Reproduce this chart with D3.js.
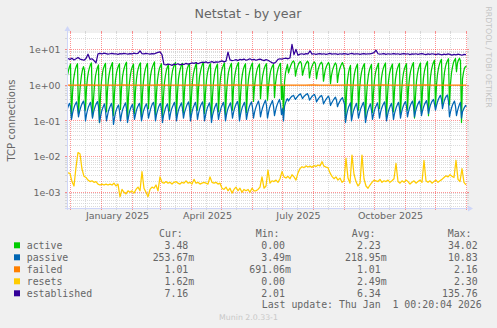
<!DOCTYPE html>
<html>
<head>
<meta charset="utf-8">
<script src="https://cdn.jsdelivr.net/npm/d3@7"></script>
<style>
  html, body { margin: 0; padding: 0; background: #f0f0f0; }
  svg { display: block; }
  text { font-family: "DejaVu Sans", sans-serif; fill: #666; }
  .mono { font-family: "DejaVu Sans Mono", monospace; }
</style>
</head>
<body>
<svg id="chart" width="497" height="328"></svg>
<script>
// ---------------------------------------------------------------------------
// Netstat yearly data (daily / two-day / weekly averages)
// ---------------------------------------------------------------------------
const firstDay = new Date(2024, 10, 27);

// TCP active opens, one value per day
const activeDaily = [
  1.9, 2.6, 3.3, 3.9,
  0.12, 0.6, 1.4, 2.1, 2.9, 3.5, 4.0,
  0.16, 0.5, 1.1, 1.9, 2.7, 3.3, 2.6,
  0.2, 0.8, 1.6, 2.4, 3.1, 3.8, 4.2,
  0.13, 0.4, 1.0, 1.8, 2.5, 3.2, 3.7,
  0.09, 0.5, 1.3, 2.2, 3.0, 3.6, 4.1,
  0.18, 0.7, 1.5, 2.3, 3.1, 3.7, 4.3,
  0.14, 0.6, 1.4, 2.2, 2.9, 3.5, 4.0,
  0.21, 0.8, 1.7, 2.5, 3.2, 3.9, 4.4,
  0.11, 0.5, 1.2, 2.0, 2.8, 3.4, 3.9,
  0.16, 0.7, 1.5, 2.4, 3.1, 3.8, 4.2,
  0.13, 0.6, 1.3, 2.1, 2.9, 3.6, 4.1,
  0.22, 0.9, 1.8, 2.6, 3.3, 3.9, 4.5,
  0.15, 0.6, 1.4, 2.2, 3.0, 3.5, 4.0,
  0.12, 0.5, 1.2, 1.9, 2.7, 3.3, 3.8,
  0.19, 0.8, 1.6, 2.5, 3.2, 3.8, 4.3,
  0.14, 0.6, 1.5, 2.3, 3.0, 3.7, 4.1,
  0.17, 0.7, 1.5, 2.3, 3.1, 3.6, 4.0,
  0.13, 0.5, 1.3, 2.1, 2.8, 3.5, 4.2,
  0.2, 0.8, 1.7, 2.4, 3.2, 3.9, 4.4,
  0.16, 0.6, 1.4, 2.2, 2.9, 3.6, 4.0,
  0.12, 0.5, 1.2, 2.0, 2.8, 3.4, 3.9,
  0.18, 0.7, 1.6, 2.4, 3.1, 3.7, 4.2,
  0.15, 0.6, 1.4, 2.3, 3.0, 3.6, 4.1,
  0.2, 0.8, 1.6, 2.4, 3.2, 3.8, 4.3,
  0.13, 0.5, 1.3, 2.1, 2.9, 3.5, 4.0,
  0.17, 0.7, 1.5, 2.3, 3.0, 3.7, 4.2,
  0.35, 0.9, 1.6, 2.3, 3.0, 3.5, 3.9,
  0.42, 1.0, 1.7, 2.4, 3.1, 3.6, 4.0,
  0.38, 0.9, 1.6, 2.4, 3.0, 3.5, 3.8,
  0.45, 1.1, 1.8, 2.5, 3.2, 3.7, 4.1,
  0.4, 1.0, 0.15, 1.2, 2.2, 3.0, 3.8,
  2.2, 2.8, 3.4, 4.0, 4.5, 4.8, 4.2,
  1.8, 2.6, 3.3, 3.9, 4.4, 4.6, 4.0,
  1.9, 2.5, 3.2, 3.8, 4.3, 4.7, 4.3,
  1.6, 2.4, 3.1, 3.7, 4.2, 4.5, 3.9,
  1.5, 2.3, 3.0, 3.6, 4.1, 4.4, 3.8,
  1.3, 2.0, 2.8, 3.4, 3.9, 4.3, 3.7,
  1.1, 1.9, 2.6, 3.2, 3.8, 4.2, 3.6,
  1.2, 2.0, 2.7, 3.3, 3.9, 4.3, 3.5,
  2.8, 0.1, 0.6, 1.4, 2.2, 3.0, 3.6,
  0.14, 0.6, 1.3, 2.1, 2.8, 3.4, 3.9,
  0.2, 0.7, 1.5, 2.3, 3.0, 3.6, 4.0,
  0.12, 0.5, 1.2, 2.0, 2.7, 3.3, 3.8,
  0.17, 0.6, 1.4, 2.2, 2.9, 3.5, 4.1,
  0.22, 0.8, 1.6, 2.4, 3.1, 3.7, 4.2,
  0.13, 0.5, 1.3, 2.1, 2.8, 3.4, 3.9,
  0.18, 0.7, 1.5, 2.3, 3.0, 3.6, 4.1,
  0.15, 0.6, 1.4, 2.2, 2.9, 3.5, 4.0,
  0.2, 0.8, 1.6, 2.4, 3.1, 3.8, 4.3,
  0.12, 0.5, 1.3, 2.1, 2.9, 3.6, 4.2,
  0.17, 0.7, 1.6, 2.5, 3.3, 4.0, 4.6,
  0.14, 0.7, 1.7, 2.7, 3.6, 4.4, 5.0,
  0.25, 1.0, 2.0, 3.0, 3.9, 4.7, 5.3,
  0.3, 1.2, 2.3, 3.3, 4.2, 4.9, 5.5,
  0.28, 1.1, 2.2, 3.2, 4.3, 5.0, 5.6,
  2.4, 4.2, 5.1, 5.7, 4.8, 0.09, 1.5,
  2.3, 3.0, 3.3, 3.48
];

// TCP passive opens, one value per day
const passiveDaily = [
  0.22, 0.27, 0.31, 0.25,
  0.11, 0.16, 0.21, 0.26, 0.3, 0.34, 0.24,
  0.13, 0.18, 0.23, 0.28, 0.32, 0.36, 0.27,
  0.1, 0.15, 0.2, 0.25, 0.29, 0.33, 0.22,
  0.12, 0.17, 0.22, 0.27, 0.31, 0.35, 0.25,
  0.09, 0.13, 0.18, 0.22, 0.26, 0.3, 0.2,
  0.1, 0.14, 0.19, 0.23, 0.27, 0.31, 0.21,
  0.08, 0.12, 0.17, 0.21, 0.25, 0.28, 0.19,
  0.1, 0.15, 0.2, 0.24, 0.28, 0.32, 0.22,
  0.09, 0.13, 0.18, 0.22, 0.26, 0.29, 0.2,
  0.11, 0.15, 0.2, 0.24, 0.28, 0.31, 0.21,
  0.1, 0.14, 0.19, 0.23, 0.27, 0.3, 0.22,
  0.12, 0.16, 0.21, 0.26, 0.3, 0.33, 0.23,
  0.1, 0.15, 0.19, 0.24, 0.28, 0.31, 0.21,
  0.09, 0.14, 0.18, 0.23, 0.27, 0.3, 0.2,
  0.11, 0.16, 0.21, 0.25, 0.29, 0.33, 0.23,
  0.1, 0.15, 0.2, 0.24, 0.28, 0.32, 0.22,
  0.12, 0.17, 0.21, 0.26, 0.3, 0.34, 0.24,
  0.1, 0.15, 0.2, 0.25, 0.29, 0.33, 0.23,
  0.11, 0.16, 0.21, 0.26, 0.3, 0.34, 0.24,
  0.1, 0.14, 0.19, 0.24, 0.28, 0.32, 0.22,
  0.09, 0.14, 0.18, 0.23, 0.27, 0.31, 0.21,
  0.11, 0.16, 0.2, 0.25, 0.29, 0.33, 0.23,
  0.1, 0.15, 0.2, 0.24, 0.28, 0.32, 0.22,
  0.12, 0.17, 0.22, 0.27, 0.31, 0.35, 0.25,
  0.1, 0.15, 0.2, 0.25, 0.29, 0.33, 0.23,
  0.11, 0.16, 0.21, 0.26, 0.3, 0.34, 0.24,
  0.12, 0.17, 0.22, 0.27, 0.31, 0.36, 0.26,
  0.13, 0.18, 0.23, 0.28, 0.33, 0.38, 0.27,
  0.12, 0.17, 0.23, 0.28, 0.32, 0.37, 0.26,
  0.14, 0.19, 0.25, 0.3, 0.35, 0.4, 0.29,
  0.15, 0.22, 0.1, 0.25, 0.32, 0.38, 0.42,
  0.36, 0.4, 0.44, 0.48, 0.5, 0.52, 0.45,
  0.4, 0.44, 0.48, 0.52, 0.55, 0.57, 0.5,
  0.42, 0.46, 0.5, 0.53, 0.56, 0.58, 0.5,
  0.38, 0.42, 0.46, 0.5, 0.53, 0.55, 0.47,
  0.34, 0.38, 0.42, 0.46, 0.49, 0.52, 0.44,
  0.3, 0.34, 0.38, 0.42, 0.46, 0.49, 0.41,
  0.27, 0.31, 0.35, 0.39, 0.43, 0.46, 0.38,
  0.25, 0.3, 0.34, 0.38, 0.42, 0.45, 0.36,
  0.3, 0.09, 0.14, 0.19, 0.24, 0.28, 0.32,
  0.1, 0.14, 0.19, 0.23, 0.27, 0.31, 0.21,
  0.12, 0.16, 0.21, 0.25, 0.29, 0.33, 0.23,
  0.09, 0.13, 0.18, 0.22, 0.26, 0.3, 0.2,
  0.11, 0.15, 0.2, 0.24, 0.28, 0.32, 0.22,
  0.12, 0.17, 0.22, 0.26, 0.3, 0.34, 0.24,
  0.1, 0.14, 0.19, 0.23, 0.27, 0.31, 0.21,
  0.11, 0.16, 0.2, 0.25, 0.29, 0.33, 0.23,
  0.12, 0.17, 0.22, 0.27, 0.31, 0.35, 0.25,
  0.13, 0.18, 0.23, 0.28, 0.32, 0.36, 0.26,
  0.13, 0.18, 0.23, 0.28, 0.32, 0.36, 0.26,
  0.14, 0.19, 0.24, 0.29, 0.33, 0.37, 0.27,
  0.16, 0.22, 0.28, 0.33, 0.37, 0.4, 0.3,
  0.2, 0.27, 0.34, 0.41, 0.47, 0.52, 0.4,
  0.22, 0.3, 0.38, 0.45, 0.5, 0.53, 0.35,
  0.13, 0.18, 0.23, 0.28, 0.32, 0.36, 0.26,
  0.14, 0.19, 0.24, 0.29, 0.33, 0.12, 0.18,
  0.21, 0.24, 0.27, 0.25367
];

// TCP failed attempts, one value per week
const failedWeekly = [
  1.01, 1.0, 1.01, 1.02, 1.0, 1.01, 1.01, 1.0, 1.02, 1.01,
  1.0, 1.01, 1.01, 1.02, 1.0, 1.01, 1.0, 1.01, 1.02, 1.01,
  1.0, 1.01, 1.01, 1.0, 1.02, 1.01, 1.0, 1.01, 1.01, 1.02,
  1.0, 1.01, 1.01, 1.0, 1.01, 1.02, 1.01, 1.0, 1.01, 1.01,
  1.02, 1.0, 1.01, 1.01, 1.0, 1.02, 1.01, 1.0, 1.01, 1.01,
  1.0, 1.02, 1.01, 1.0, 1.01, 1.01, 1.0, 1.01
];

// TCP resets, one value per two days
const resetsTwoDay = [
  0.0035, 0.0034, 0.002, 0.0015, 0.005, 0.013, 0.012, 0.0045, 0.0028, 0.0026,
  0.0022, 0.002, 0.0021, 0.0019, 0.002, 0.0017, 0.0016, 0.0017, 0.0016, 0.0017,
  0.0016, 0.0017, 0.0016, 0.0018, 0.0015, 0.0017, 0.00075, 0.0012, 0.001, 0.0009,
  0.0011, 0.001, 0.0011, 0.00095, 0.0012, 0.0014, 0.0011, 0.0038, 0.0013, 0.001,
  0.00075, 0.0012, 0.0014, 0.0013, 0.0016, 0.0011, 0.0027, 0.0019, 0.0018, 0.002,
  0.0018, 0.0019, 0.0017, 0.0019, 0.002, 0.0018, 0.0017, 0.0019, 0.0018, 0.0021,
  0.0018, 0.0019, 0.0017, 0.0023, 0.0018, 0.0019, 0.0017, 0.0018, 0.0019, 0.0018,
  0.0017, 0.0027, 0.0019, 0.0018, 0.0019, 0.0017, 0.0018, 0.0013, 0.0012, 0.0014,
  0.0011, 0.0013, 0.00095, 0.0012, 0.0014, 0.0011, 0.0013, 0.001, 0.0012, 0.0011,
  0.0012, 0.001, 0.0013, 0.0011, 0.0011, 0.0012, 0.0014, 0.0027, 0.0013, 0.0015,
  0.0042, 0.0018, 0.0021, 0.002, 0.0022, 0.0019, 0.0024, 0.0038, 0.0027, 0.0025,
  0.0028, 0.0024, 0.0031, 0.0027, 0.0022, 0.0035, 0.0046, 0.0052, 0.0049, 0.0055,
  0.0051, 0.0054, 0.005, 0.0056, 0.0053, 0.0058, 0.0055, 0.0072, 0.0054, 0.0051,
  0.0049, 0.0035, 0.0028, 0.0024, 0.0027, 0.0022, 0.0025, 0.0019, 0.0021, 0.009,
  0.0025, 0.0018, 0.011, 0.0032, 0.002, 0.0015, 0.0018, 0.011, 0.0024, 0.0015,
  0.0013, 0.0016, 0.0019, 0.0022, 0.0021, 0.002, 0.0023, 0.0019, 0.0021, 0.002,
  0.0022, 0.0019, 0.0021, 0.0024, 0.0065, 0.002, 0.0018, 0.0021, 0.0019, 0.0022,
  0.002, 0.0017, 0.0019, 0.0021, 0.0018, 0.002, 0.0022, 0.0019, 0.0078, 0.0021,
  0.0019, 0.0021, 0.0018, 0.002, 0.0022, 0.0019, 0.0021, 0.0023, 0.0026, 0.0029,
  0.0027, 0.0031, 0.0028, 0.0026, 0.0079, 0.0023, 0.002, 0.0046, 0.0019, 0.00162
];

// Established connections, one value per two days
const establishedTwoDay = [
  5.6, 5.3, 5.7, 5.1, 5.5, 6.0, 5.4, 5.2, 5.0, 5.6,
  7.4, 5.3, 5.5, 4.9, 4.2, 7.6, 7.8, 7.5, 7.9, 7.7,
  7.4, 7.6, 7.8, 7.5, 7.6, 7.3, 7.7, 7.5, 7.8, 7.6,
  7.4, 7.7, 7.5, 7.9, 7.6, 7.8, 9.2, 7.7, 7.5, 7.8,
  7.6, 7.4, 7.7, 7.5, 7.9, 8.3, 8.6, 7.2, 3.8, 3.7,
  3.9, 3.8, 3.6, 3.9, 3.8, 4.0, 3.7, 3.9, 3.8, 4.1,
  3.9, 4.0, 4.2, 4.1, 4.3, 4.0, 4.2, 4.4, 4.3, 4.5,
  4.2, 4.4, 4.6, 4.3, 4.5, 4.4, 4.6, 4.8, 4.5, 4.7,
  8.4, 5.1, 4.9, 5.0, 5.2, 4.9, 5.3, 5.1, 5.4, 5.0,
  5.2, 5.5, 5.1, 5.3, 5.0, 5.2, 5.4, 5.1, 4.9, 5.2,
  5.0, 4.6, 4.3, 4.1, 4.5, 5.3, 5.5, 5.4, 5.6, 5.7,
  5.5, 5.8, 14.0, 7.2, 10.1, 6.9, 7.4, 7.6, 7.3, 7.7,
  7.5, 9.2, 7.4, 7.6, 7.3, 7.5, 7.7, 7.4, 7.6, 7.3,
  7.5, 7.8, 7.4, 7.6, 7.5, 7.3, 7.6, 7.4, 7.7, 7.5,
  7.3, 7.6, 7.8, 7.4, 7.5, 7.6, 7.3, 7.5, 7.7, 7.4,
  7.6, 7.5, 7.8, 8.2, 9.6, 7.6, 7.4, 7.5, 7.7, 7.3,
  7.6, 7.4, 7.5, 7.7, 7.4, 7.6, 7.3, 7.5, 7.7, 7.4,
  7.6, 7.2, 7.5, 7.4, 7.6, 7.3, 7.5, 7.7, 7.4, 7.2,
  7.5, 7.3, 7.6, 7.4, 7.2, 7.5, 7.3, 7.1, 7.4, 7.2,
  7.5, 7.3, 7.0, 7.3, 7.1, 7.4, 7.2, 6.9, 7.3, 7.16
];

const seriesNames  = ["active", "passive", "failed", "resets", "established"];
const seriesColors = ["#00cc00", "#0066b3", "#ff8000", "#ffcc00", "#330099"];
const minText = ["0.00", "3.49m", "691.06m", "0.00", "2.01"];
const avgText = ["2.23", "218.95m", "1.01", "2.49m", "6.34"];
const maxText = ["34.02", "10.83", "2.16", "2.30", "135.76"];

const yTickValues = [1e-3, 1e-2, 1e-1, 1, 10];
const yTickLabels = ["1e-03", "1e-02", "1e-01", "1e+00", "1e+01"];
const xLabelDates = [new Date(2025, 0, 16), new Date(2025, 3, 16), new Date(2025, 6, 16), new Date(2025, 9, 16)];
const xLabelTexts = ["January 2025", "April 2025", "July 2025", "October 2025"];

const titleText = "Netstat - by year";
const vLabelText = "TCP connections";
const lastUpdateText = "Last update: Thu Jan  1 00:20:04 2026";

// ---------------------------------------------------------------------------
// Layout and scales
// ---------------------------------------------------------------------------
const L = 67, R = 467, T = 33, B = 208;
const svg = d3.select("#chart");

const x = d3.scaleTime()
  .domain([new Date(2024, 10, 27, 0, 20), new Date(2026, 0, 1, 0, 20)])
  .range([L, R]);
const y = d3.scaleLog().domain([3.63e-4, 29]).range([B, T]);

svg.append("rect").attr("x", 0).attr("y", 0).attr("width", 497).attr("height", 328).attr("fill", "#f0f0f0");
svg.append("rect").attr("x", L).attr("y", T).attr("width", R - L).attr("height", B - T).attr("fill", "#ffffff");

const snap = v => Math.floor(v) + 0.5;
const minorColor = "rgba(192,192,192,0.55)";
const majorColor = "rgba(255,0,0,0.42)";

const grid = svg.append("g").attr("shape-rendering", "crispEdges");

// horizontal grid: 2..9 within each decade (minor), decades (major)
const decades = d3.range(-4, 2).map(e => Math.pow(10, e));
const yMinor = [];
decades.forEach(d => { for (let k = 2; k <= 9; k++) yMinor.push(d * k); });
const yDomain = y.domain();
const inY = v => v >= yDomain[0] && v <= yDomain[1];

function hLine(v, color) {
  const yy = snap(y(v));
  grid.append("line").attr("x1", L).attr("x2", R).attr("y1", yy).attr("y2", yy)
    .attr("stroke", color).attr("stroke-dasharray", "1,1");
  grid.append("line").attr("x1", L - 2).attr("x2", L).attr("y1", yy).attr("y2", yy).attr("stroke", color);
  grid.append("line").attr("x1", R).attr("x2", R + 2).attr("y1", yy).attr("y2", yy).attr("stroke", color);
}
function vLine(d, color) {
  const xx = snap(x(d));
  grid.append("line").attr("x1", xx).attr("x2", xx).attr("y1", T).attr("y2", B)
    .attr("stroke", color).attr("stroke-dasharray", "1,1");
  grid.append("line").attr("x1", xx).attr("x2", xx).attr("y1", T - 2).attr("y2", T).attr("stroke", color);
  grid.append("line").attr("x1", xx).attr("x2", xx).attr("y1", B).attr("y2", B + 2).attr("stroke", color);
}

yMinor.filter(inY).forEach(v => hLine(v, minorColor));
decades.filter(inY).forEach(v => hLine(v, majorColor));

const [d0, d1] = x.domain();
const monthStarts = d3.timeMonth.range(d3.timeMonth.ceil(d0), d1);
const midMonths = d3.timeMonth.range(d3.timeMonth.floor(d0), d1)
  .map(m => d3.timeDay.offset(m, 15)).filter(d => d >= d0 && d <= d1);
midMonths.forEach(d => vLine(d, minorColor));
monthStarts.forEach(d => vLine(d, majorColor));

// ---------------------------------------------------------------------------
// Series lines
// ---------------------------------------------------------------------------
svg.append("clipPath").attr("id", "plotClip")
  .append("rect").attr("x", L).attr("y", T).attr("width", R - L).attr("height", B - T);

const seriesData = [
  { values: activeDaily, step: 1, shift: 0.5 },
  { values: passiveDaily, step: 1, shift: 0.5 },
  { values: failedWeekly, step: 7, shift: 0.5 },
  { values: resetsTwoDay, step: 2, shift: 1 },
  { values: establishedTwoDay, step: 2, shift: 1 }
];

const line = d3.line()
  .defined(d => d.v > 0)
  .x(d => x(d.t))
  .y(d => y(d.v));

const plot = svg.append("g").attr("clip-path", "url(#plotClip)");
seriesData.forEach((s, k) => {
  const pts = s.values.map((v, i) => ({
    t: d3.timeHour.offset(firstDay, Math.round((i * s.step + s.shift) * 24)),
    v
  }));
  plot.append("path").datum(pts)
    .attr("d", line)
    .attr("fill", "none")
    .attr("stroke", seriesColors[k])
    .attr("stroke-width", 1.25)
    .attr("stroke-linejoin", "round");
});

// ---------------------------------------------------------------------------
// Axes
// ---------------------------------------------------------------------------
const axisColor = "#cfd6f8";
const axes = svg.append("g");
axes.append("line").attr("x1", L - 2).attr("x2", R + 3).attr("y1", B + 0.5).attr("y2", B + 0.5)
  .attr("stroke", axisColor).attr("shape-rendering", "crispEdges");
axes.append("line").attr("x1", L + 0.5).attr("x2", L + 0.5).attr("y1", B + 2).attr("y2", T - 3)
  .attr("stroke", axisColor).attr("shape-rendering", "crispEdges");
axes.append("path").attr("d", `M${R + 6},${B + 0.5}L${R + 1},${B - 2.5}L${R + 1},${B + 3.5}Z`).attr("fill", axisColor);
axes.append("path").attr("d", `M${L + 0.5},${T - 7}L${L - 2.5},${T - 2}L${L + 3.5},${T - 2}Z`).attr("fill", axisColor);

const yAxis = svg.append("g").attr("transform", `translate(${L},0)`)
  .call(d3.axisLeft(y).tickValues(yTickValues).tickFormat((d, i) => yTickLabels[i]).tickSize(0).tickPadding(6.5));
yAxis.select(".domain").remove();
yAxis.selectAll("text").attr("font-size", "9.4px").attr("font-family", "DejaVu Sans").attr("fill", "#666").attr("dy", "0.35em");

const xAxis = svg.append("g").attr("transform", `translate(0,${B})`)
  .call(d3.axisBottom(x).tickValues(xLabelDates).tickFormat((d, i) => xLabelTexts[i]).tickSize(0));
xAxis.select(".domain").remove();
xAxis.selectAll("text").attr("font-size", "9.5px").attr("font-family", "DejaVu Sans").attr("fill", "#666")
  .attr("y", 11).attr("dy", 0);

// ---------------------------------------------------------------------------
// Titles and watermark
// ---------------------------------------------------------------------------
svg.append("text").attr("x", 248).attr("y", 18.3).attr("text-anchor", "middle")
  .attr("font-size", "12.7px").text(titleText);

svg.append("text").attr("transform", `translate(15.2,${(T + B) / 2}) rotate(-90)`)
  .attr("text-anchor", "middle").attr("font-size", "10px").text(vLabelText);

svg.append("text").attr("transform", "translate(486.3,57) rotate(90)")
  .attr("text-anchor", "middle").attr("font-size", "7.9px").style("fill", "#c4c4c4")
  .text("RRDTOOL / TOBI OETIKER");

svg.append("text").attr("x", 248.5).attr("y", 319.5).attr("text-anchor", "middle")
  .attr("font-size", "7.8px").style("fill", "#c8c8c8").text("Munin 2.0.33-1");

// ---------------------------------------------------------------------------
// Legend
// ---------------------------------------------------------------------------
const fs = "9.9px";
const legend = svg.append("g").attr("class", "mono").attr("font-size", fs);
const colEnd = [188.3, 285, 380.7, 477.7];
const headers = ["Cur:", "Min:", "Avg:", "Max:"];
const headerX = [159, 255.7, 351.7, 447.7];
const rowBase = 249.3, rowStep = 12;

headers.forEach((h, i) => {
  legend.append("text").attr("class", "mono").attr("x", headerX[i]).attr("y", rowBase - rowStep).text(h);
});

function curText(v) {
  if (v === 0) return "0.00";
  if (Math.abs(v) < 1) return (v * 1000).toFixed(2) + "m";
  return v.toFixed(2);
}

function putValue(str, xEnd, yy) {
  const m = str.match(/^([-\d.]+)(\D?)$/);
  legend.append("text").attr("class", "mono").attr("x", xEnd).attr("y", yy).attr("text-anchor", "end").text(m[1]);
  if (m[2]) legend.append("text").attr("class", "mono").attr("x", xEnd).attr("y", yy).text(m[2]);
}

seriesNames.forEach((name, k) => {
  const yy = rowBase + k * rowStep;
  legend.append("rect").attr("x", 14).attr("y", yy - 7).attr("width", 6).attr("height", 6)
    .attr("fill", seriesColors[k]);
  legend.append("text").attr("class", "mono").attr("x", 26.7).attr("y", yy).text(name);
  const vals = seriesData[k].values;
  putValue(curText(vals[vals.length - 1]), colEnd[0], yy);
  putValue(minText[k], colEnd[1], yy);
  putValue(avgText[k], colEnd[2], yy);
  putValue(maxText[k], colEnd[3], yy);
});

legend.append("text").attr("class", "mono").attr("x", 261.7).attr("y", rowBase + 5 * rowStep - 1)
  .style("white-space", "pre").text(lastUpdateText);
</script>
</body>
</html>
